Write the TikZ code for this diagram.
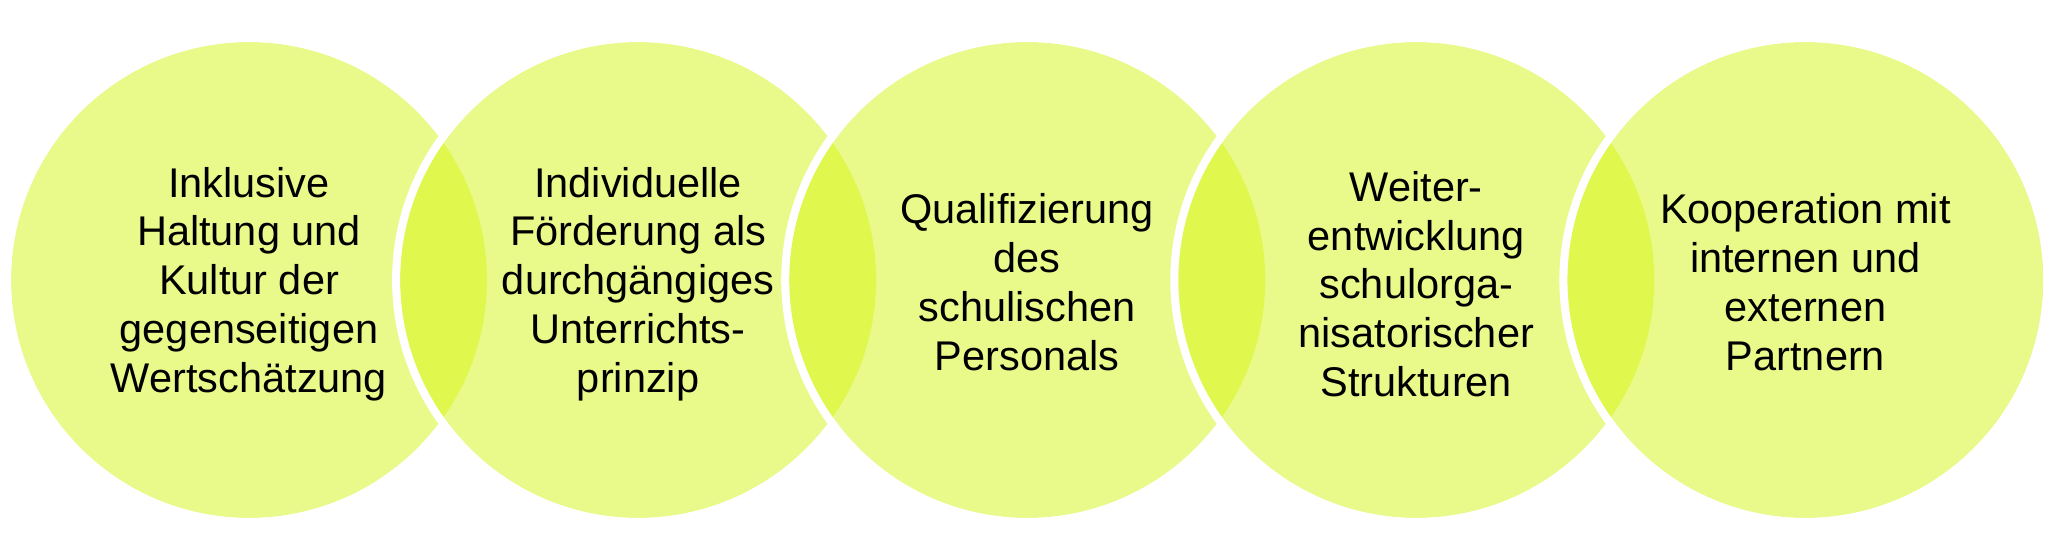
\documentclass[tikz,border=0pt]{standalone}
\usepackage{fontspec}
\setmainfont{Liberation Sans}
\definecolor{ringlight}{RGB}{233,250,139}
\definecolor{ringlens}{RGB}{224,248,78}
\tikzset{
  ringtext/.style={align=center, font=\fontsize{20.75pt}{24.4pt}\selectfont, text=black, inner sep=0pt},
  ringedge/.style={draw=white, line width=4pt}
}
\begin{document}
\begin{tikzpicture}[x=0.5pt,y=-0.5pt]
\useasboundingbox (0,0) rectangle (2054,560);
\def\R{238}
\foreach \i in {0,...,4}{
  \pgfmathsetmacro{\cx}{249+389.1*\i}
  \pgfmathsetmacro{\px}{249+389.1*(\i-1)}
  \fill[ringlight] (\cx,280) circle[radius=\R];
  \ifnum\i>0
    \begin{scope}
      \clip (\px,280) circle[radius=\R];
      \fill[ringlens] (\cx,280) circle[radius=\R];
    \end{scope}
  \fi
  \draw[ringedge] (\cx,280) circle[radius=242];
}
\node[ringtext] (t1) at (249.0,284) {Inklusive\\Haltung und\\Kultur der\\gegenseitigen\\Wertschätzung};
\node[ringtext] (t2) at (638.1,284) {Individuelle\\Förderung als\\durchgängiges\\Unterrichts-\\prinzip};
\node[ringtext] (t3) at (1027.2,282) {Qualifizierung\\des\\schulischen\\Personals};
\node[ringtext] (t4) at (1416.3,284) {Weiter-\\entwicklung\\schulorga-\\nisatorischer\\Strukturen};
\node[ringtext] (t5) at (1805.4,282) {Kooperation mit\\internen und\\externen\\Partnern};
\end{tikzpicture}
\end{document}
